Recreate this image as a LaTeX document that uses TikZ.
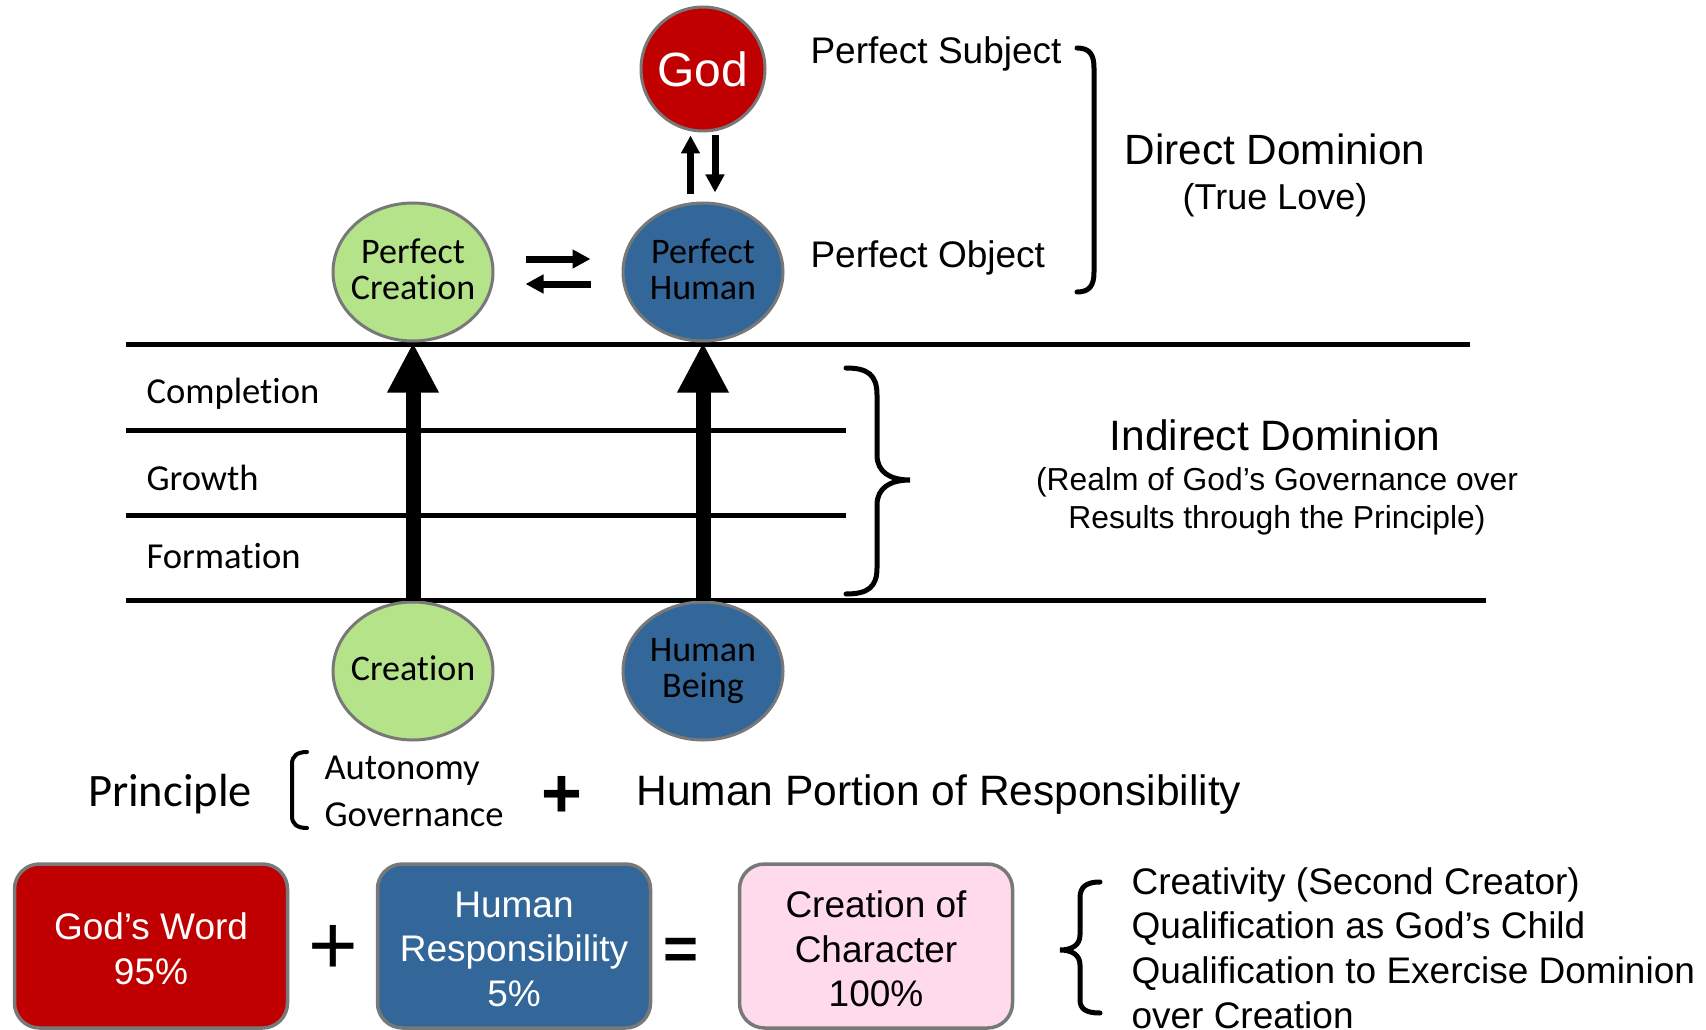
\documentclass[tikz,border=0pt]{standalone}
\usepackage{fontspec}
\setmainfont{Liberation Sans}
\newfontfamily\calib[Ligatures=NoCommon]{Carlito}
\usetikzlibrary{shapes.geometric,arrows.meta}
\definecolor{godred}{RGB}{192,0,0}
\definecolor{hblue}{RGB}{52,103,153}
\definecolor{cgreen}{RGB}{181,227,138}
\definecolor{cpink}{RGB}{255,218,236}
\definecolor{bgray}{RGB}{120,120,120}
\begin{document}
\begin{tikzpicture}[x=1pt,y=-1pt,
  ell/.style={ellipse, draw=bgray, line width=3pt, minimum width=160pt, minimum height=138pt, inner xsep=-40pt, inner ysep=-30pt, align=center, font=\calib\fontsize{36}{36}\selectfont},
  gnode/.style={circle, draw=bgray, line width=3pt, fill=godred, minimum size=124pt, inner sep=0pt, text=white, font=\fontsize{48}{48}\selectfont},
  level/.style={line width=5pt},
  barrow/.style={line width=15pt, -{Triangle[width=48pt,length=50pt]}},
  sarrow/.style={line width=7pt, -{Triangle[width=18pt,length=18pt]}},
  brace/.style={line width=5pt, line cap=round},
  calibtxt/.style={font=\calib\fontsize{36.6}{36.6}\selectfont},
  box/.style={draw=bgray, line width=3.5pt, rounded corners=25pt, minimum width=273pt, minimum height=164pt, align=center, inner sep=0pt, font=\fontsize{37}{44.5}\selectfont},
  txt/.style={font=\fontsize{37}{37}\selectfont}
]
\path[use as bounding box, clip] (0,0) rectangle (1706,1030);
\fill[white] (0,0) rectangle (1706,1030);

% level lines
\draw[level] (126,344) -- (1470,344);
\draw[level] (126,430) -- (846,430);
\draw[level] (126,515) -- (846,515);
\draw[level] (126,600) -- (1486,600);

% circles
\node[gnode] (god) at (703,69) {God};
\node[ell, fill=cgreen, text depth=6pt] (pc) at (413,272) {Perfect\\Creation};
\node[ell, fill=hblue, text depth=6pt] (ph) at (703,272) {Perfect\\Human};
\node[ell, fill=cgreen, text depth=6pt] (cr) at (413,671) {Creation};
\node[ell, fill=hblue] (hb) at (703,671) {Human\\Being};

% growth arrows
\draw[barrow] (cr.north) -- (pc.south);
\draw[barrow] (hb.north) -- (ph.south);

% give and take arrows
\draw[sarrow] ([xshift=-12.5pt,yshift=8pt]ph.north) -- ([xshift=-12.5pt,yshift=-3pt]god.south);
\draw[sarrow] ([xshift=12pt,yshift=-3pt]god.south) -- ([xshift=12pt,yshift=9pt]ph.north);
\draw[sarrow] ([xshift=31pt,yshift=13pt]pc.east) -- ([xshift=-31pt,yshift=13pt]ph.west);
\draw[sarrow] ([xshift=-31pt,yshift=-12pt]ph.west) -- ([xshift=31pt,yshift=-12pt]pc.east);

% direct dominion
\node[txt, anchor=west] (psub) at (807,54) {Perfect Subject};
\node[txt, anchor=west] (pobj) at (807,258) {Perfect Object};
\draw[brace] (1077,48) .. controls (1090,48) and (1094,55) .. (1094,68) -- (1094,272) .. controls (1094,285) and (1090,292) .. (1077,292);
\node[font=\fontsize{42.3}{42.3}\selectfont] (dd) at (1275,149) {Direct Dominion};
\node[font=\fontsize{36}{36}\selectfont] (tl) at (1275,200) {(True Love)};

% levels
\node[calibtxt, anchor=west] (comp) at (143,394) {Completion};
\node[calibtxt, anchor=west] (grow) at (143,478) {Growth};
\node[calibtxt, anchor=west] (form) at (143,556) {Formation};

% indirect dominion
\draw[brace] (846,368) .. controls (868,368) and (877,375) .. (877,395) -- (877,455) .. controls (877,472) and (890,480) .. (910,480) .. controls (890,480) and (877,488) .. (877,505) -- (877,568) .. controls (877,587) and (868,594) .. (846,594);
\node[font=\fontsize{42.5}{42.5}\selectfont] (id) at (1275,435) {Indirect Dominion};
\node[align=center, font=\fontsize{31.8}{38}\selectfont] (ids) at (1277,501) {(Realm of God’s Governance over\\Results through the Principle)};

% principle row
\node[font=\calib\fontsize{46.5}{46.5}\selectfont] (prin) at (170,794) {Principle};
\draw[line width=4pt, line cap=round] (307,752) .. controls (297,752) and (292,756) .. (292,764) -- (292,816) .. controls (292,824) and (297,828) .. (307,828);
\node[calibtxt, anchor=west] (auto) at (321,771) {Autonomy};
\node[calibtxt, anchor=west] (gov) at (321,815) {Governance};
\node[font=\bfseries\fontsize{70}{70}\selectfont] (plusa) at (562,797) {+};
\node[font=\fontsize{42.5}{42.5}\selectfont, anchor=west] (hpr) at (633,795) {Human Portion of Responsibility};

% equation row
\node[box, fill=godred] (gw) at (151,946) {};
\node[box, fill=hblue] (hr) at (514,946) {};
\node[box, fill=cpink] (cc) at (876,946) {};
\node[align=center, text=white, font=\fontsize{37}{44.5}\selectfont] (gwt) at (151,949) {God’s Word\\95\%};
\node[align=center, text=white, font=\fontsize{37}{44.5}\selectfont] (hrt) at (514,949) {Human\\Responsibility\\5\%};
\node[align=center, font=\fontsize{37}{44.5}\selectfont] (cct) at (876,949) {Creation of\\Character\\100\%};
\node[font=\fontsize{85}{85}\selectfont] (plusb) at (333,950) {+};
\node[font=\bfseries\fontsize{60}{60}\selectfont] (eq) at (681,954) {=};
\draw[brace] (1100,882) .. controls (1086,882) and (1080,887) .. (1080,898) -- (1080,935) .. controls (1080,945) and (1072,950) .. (1060,950) .. controls (1072,950) and (1080,955) .. (1080,965) -- (1080,1000) .. controls (1080,1009) and (1086,1013) .. (1100,1013);
\node[anchor=west, align=left, font=\fontsize{37}{44.6}\selectfont] (list) at (1128,948) {Creativity (Second Creator)\\Qualification as God’s Child\\Qualification to Exercise Dominion\\over Creation};
\end{tikzpicture}
\end{document}
